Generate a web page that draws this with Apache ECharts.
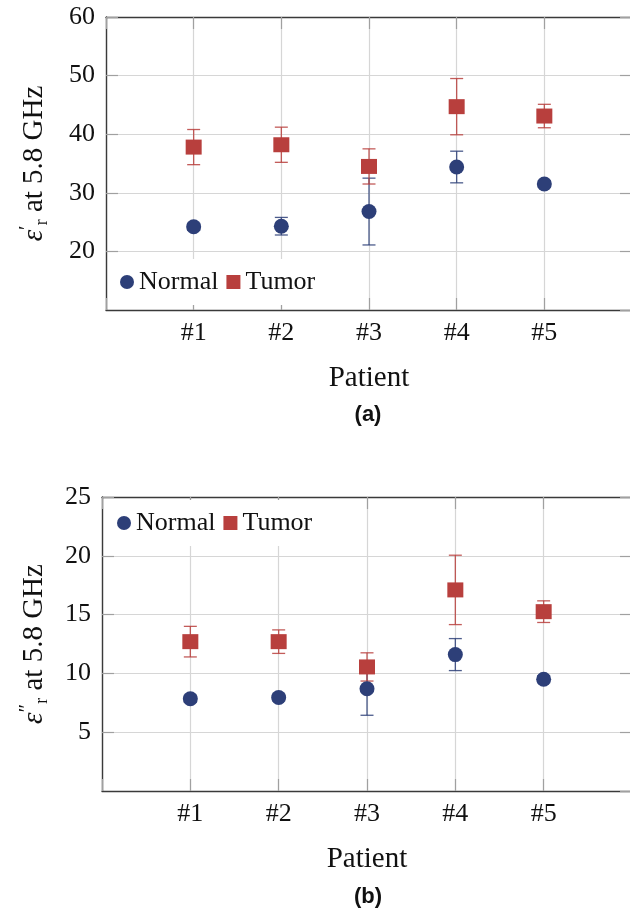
<!DOCTYPE html>
<html>
<head>
<meta charset="utf-8">
<script src="https://cdn.jsdelivr.net/npm/echarts@6/dist/echarts.min.js"></script>
<style>
  html, body { margin: 0; padding: 0; background: #fff; }
  #chart { width: 630px; height: 915px; }
</style>
</head>
<body>
<div id="chart"></div>
<script>
// patients on the x axis (positions 1..5)
const patients = ['#1', '#2', '#3', '#4', '#5'];

// (a) real part of permittivity
const normalReal = [24.2, 24.3, 26.8, 34.4, 31.5];
const normalRealErr = [0.6, 1.5, 5.7, 2.7, 0.6];
const tumorReal = [37.8, 38.2, 34.5, 44.7, 43.1];
const tumorRealErr = [3.0, 3.0, 3.0, 4.8, 2.0];

// (b) imaginary part
const normalImag = [7.85, 7.95, 8.7, 11.6, 9.5];
const normalImagErr = [0.3, 0.3, 2.26, 1.36, 0.3];
const tumorImag = [12.7, 12.7, 10.55, 17.1, 15.25];
const tumorImagErr = [1.3, 1.0, 1.2, 2.95, 0.92];

const BLUE = '#2d3f78';
const RED = '#b83f3d';
const SERIF = '"Liberation Serif", "Times New Roman", serif';

const points = (vals) => vals.map((v, i) => [i + 1, v]);
const ranges = (vals, errs) => vals.map((v, i) => [i + 1, v - errs[i], v + errs[i]]);

function renderErrorBar(color) {
  return (params, api) => {
    const x = api.value(0);
    const top = api.coord([x, api.value(2)]);
    const bot = api.coord([x, api.value(1)]);
    const half = 6.5;
    const style = { stroke: color, lineWidth: 1.3, opacity: 0.85 };
    return {
      type: 'group',
      children: [
        { type: 'line', shape: { x1: top[0], y1: top[1], x2: bot[0], y2: bot[1] }, style },
        { type: 'line', shape: { x1: top[0] - half, y1: top[1], x2: top[0] + half, y2: top[1] }, style },
        { type: 'line', shape: { x1: bot[0] - half, y1: bot[1], x2: bot[0] + half, y2: bot[1] }, style },
      ],
    };
  };
}

// frame lines must stay on their own side, not jump to zero
const frameLine = () => ({ show: true, onZero: false, lineStyle: { color: '#3a3a3a', width: 1.4 } });
const innerTick = () => ({ show: true, inside: true, length: 12, lineStyle: { color: '#a0a0a0', width: 1.2 } });
const gridLine = () => ({ show: true, lineStyle: { color: '#d6d6d6', width: 1.2 } });

function xAxes(gridIndex) {
  return [
    {
      type: 'value', gridIndex, min: 0, max: 6, interval: 1, position: 'bottom',
      name: 'Patient', nameLocation: 'middle', nameGap: 54,
      nameTextStyle: { fontFamily: SERIF, fontSize: 29, color: '#111' },
      axisLine: frameLine(), axisTick: innerTick(), splitLine: gridLine(),
      axisLabel: {
        margin: 10, fontFamily: SERIF, fontSize: 26, color: '#111',
        formatter: (v) => patients[v - 1] || '',
      },
    },
    {
      type: 'value', gridIndex, min: 0, max: 6, interval: 1, position: 'top',
      axisLine: frameLine(), axisTick: innerTick(), splitLine: { show: false },
      axisLabel: { show: false },
    },
  ];
}

function yAxes(gridIndex, min, max, interval, name, nameGap) {
  return [
    {
      type: 'value', gridIndex, min, max, interval, position: 'left',
      name, nameLocation: 'middle', nameGap,
      nameTextStyle: {
        color: '#111',
        rich: {
          e: { fontFamily: SERIF, fontSize: 29, fontStyle: 'italic', lineHeight: 34 },
          p: { fontFamily: SERIF, fontSize: 21, verticalAlign: 'top', lineHeight: 34 },
          s: { fontFamily: SERIF, fontSize: 18, verticalAlign: 'bottom', lineHeight: 14 },
          t: { fontFamily: SERIF, fontSize: 29, lineHeight: 34 },
        },
      },
      axisLine: frameLine(), axisTick: innerTick(), splitLine: gridLine(),
      axisLabel: { margin: 11, fontFamily: SERIF, fontSize: 26, color: '#111', showMinLabel: false },
    },
    {
      type: 'value', gridIndex, min, max, interval, position: 'right',
      axisLine: frameLine(), axisTick: innerTick(), splitLine: { show: false },
      axisLabel: { show: false },
    },
  ];
}

function panelSeries(axisBase, normal, normalErr, tumor, tumorErr) {
  const axes = { xAxisIndex: axisBase, yAxisIndex: axisBase };
  return [
    {
      type: 'custom', ...axes, z: 2, silent: true,
      renderItem: renderErrorBar(BLUE), encode: { x: 0, y: [1, 2] },
      data: ranges(normal, normalErr),
    },
    {
      type: 'custom', ...axes, z: 2, silent: true,
      renderItem: renderErrorBar(RED), encode: { x: 0, y: [1, 2] },
      data: ranges(tumor, tumorErr),
    },
    {
      name: 'Normal', type: 'scatter', ...axes, z: 3,
      symbol: 'circle', symbolSize: 15, itemStyle: { color: BLUE, opacity: 1 },
      data: points(normal),
    },
    {
      name: 'Tumor', type: 'scatter', ...axes, z: 3,
      symbol: 'rect', symbolSize: [16, 15], itemStyle: { color: RED, opacity: 1 },
      data: points(tumor),
    },
  ];
}

// white legend box hides the grid lines behind it
const legendBase = {
  data: [
    { name: 'Normal', icon: 'circle' },
    { name: 'Tumor', icon: 'rect' },
  ],
  itemWidth: 14, itemHeight: 14, itemGap: 8,
  backgroundColor: '#fff', padding: [10, 8, 10, 11],
  textStyle: { fontFamily: SERIF, fontSize: 26, color: '#111' },
  selectedMode: false,
};

const chart = echarts.init(document.getElementById('chart'));
chart.setOption({
  animation: false,
  backgroundColor: '#fff',
  grid: [
    // right border sits just past the picture edge, as in the original crop
    { left: 106, right: -2, top: 17, bottom: 605, outerBoundsMode: 'none' },
    { left: 102, right: -2, top: 497, bottom: 124, outerBoundsMode: 'none' },
  ],
  xAxis: [...xAxes(0), ...xAxes(1)],
  yAxis: [
    ...yAxes(0, 10, 60, 10, '{e|ε}{p|′}{s|r}{t| at 5.8 GHz}', 55),
    ...yAxes(1, 0, 25, 5, '{e|ε}{p|″}{s|r}{t| at 5.8 GHz}', 51),
  ],
  legend: [
    { ...legendBase, left: 109, top: 259 },
    { ...legendBase, left: 106, top: 500 },
  ],
  graphic: [
    { type: 'text', x: 368, y: 415, style: { text: '(a)', font: 'bold 22px "Liberation Sans", Arial, sans-serif', fill: '#111', textAlign: 'center', textVerticalAlign: 'middle' } },
    { type: 'text', x: 368, y: 897, style: { text: '(b)', font: 'bold 22px "Liberation Sans", Arial, sans-serif', fill: '#111', textAlign: 'center', textVerticalAlign: 'middle' } },
  ],
  series: [
    ...panelSeries(0, normalReal, normalRealErr, tumorReal, tumorRealErr),
    ...panelSeries(2, normalImag, normalImagErr, tumorImag, tumorImagErr),
  ],
});
</script>
</body>
</html>
